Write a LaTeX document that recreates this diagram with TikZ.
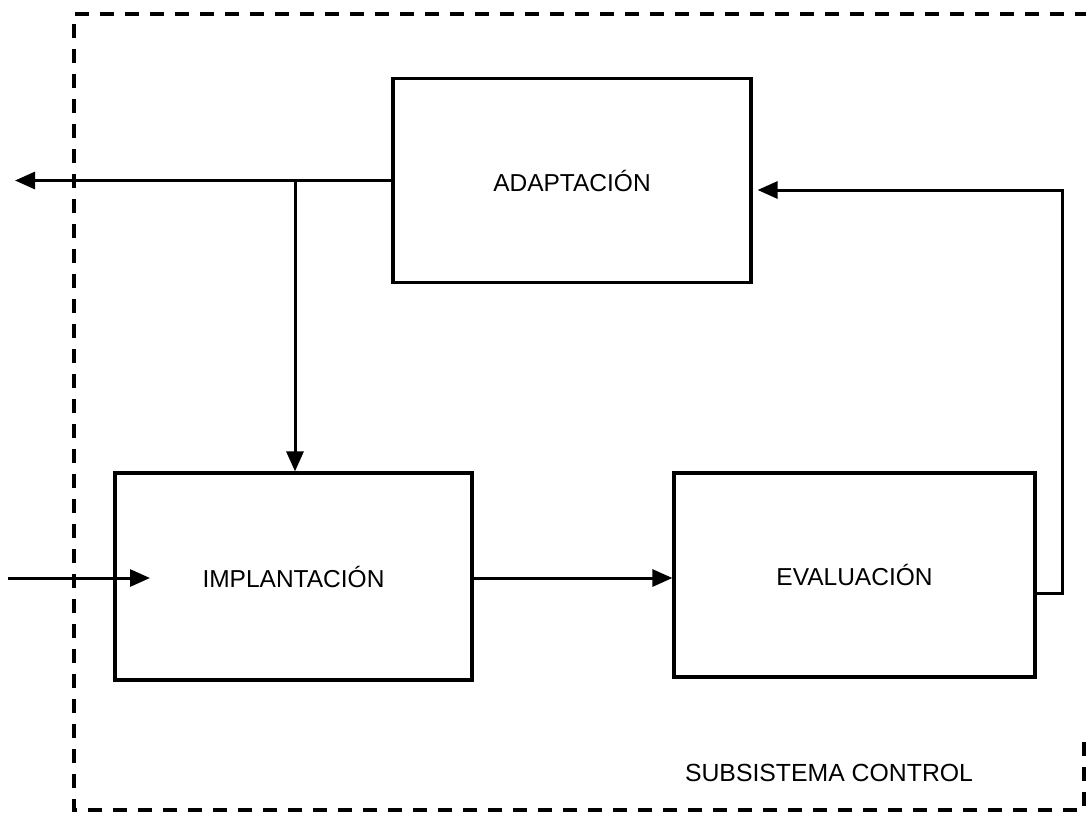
\documentclass[tikz,border=0pt]{standalone}
\usepackage{fontspec}
\setmainfont{Liberation Sans}
\usetikzlibrary{arrows.meta,calc}
\begin{document}
\begin{tikzpicture}[x=1pt,y=-1pt,
  blk/.style={draw,line width=3.2pt,minimum width=358pt,minimum height=204pt,inner sep=0pt,font=\fontsize{24.5}{29}\selectfont},
  conn/.style={line width=3pt},
  arr/.style={conn,-{Triangle[length=20pt,width=17pt]}},
  frame/.style={line width=3.4pt,dash pattern=on 14pt off 11pt},
  lbl/.style={font=\fontsize{24.8}{29}\selectfont,inner sep=0pt}]
\useasboundingbox (0,0) rectangle (1086,815);
% frame
\draw[frame] (1084,742) -- (1084,810) -- (74,810) -- (74,14) -- (1086,14);
% blocks
\node[blk] (adap) at (572,180.5) {ADAPTACIÓN};
\node[blk,minimum width=357pt,minimum height=207pt] (impl) at (293.5,576.5) {IMPLANTACIÓN};
\node[blk,minimum width=361pt,minimum height=204pt] (eval) at (854.5,575) {EVALUACIÓN};
\node[lbl] (sub) at (829,773) {SUBSISTEMA CONTROL};
% connectors
\coordinate (out) at (15,180.5);
\coordinate (j) at (295,180.5);
\coordinate (in) at (8,578);
\coordinate (inend) at (150,578);
\draw[arr] (adap.west) -- (out);
\draw[arr] (j) -- (j |- impl.north);
\draw[arr] (in) -- (inend);
\draw[arr] ([yshift=-1.5pt]impl.east) -- ([yshift=-1.5pt]impl.east -| eval.west);
\coordinate (fb) at (1062,593);
\draw[arr,shorten >=5pt] ([yshift=-18pt]eval.east) -- (fb) |- ([yshift=-9.5pt]adap.east);
\end{tikzpicture}
\end{document}
